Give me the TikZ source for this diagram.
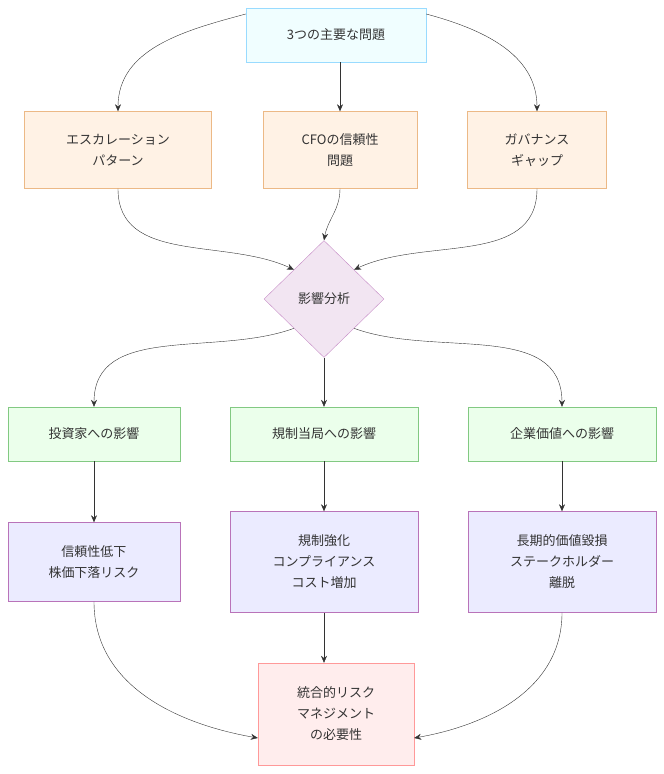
\documentclass[tikz,border=0pt]{standalone}
\usepackage{fontspec}
\newfontfamily\jp{Noto Sans CJK JP}
\usetikzlibrary{arrows.meta,shapes.geometric}
\definecolor{lineC}{HTML}{333333}
\tikzset{
  box/.style={draw, thin, align=center, font=\jp\fontsize{13}{21}\selectfont, text=lineC, inner sep=0pt},
  topbox/.style={box, fill=blue!8!cyan!6, draw=blue!35!cyan!40},
  issue/.style={box, fill=orange!10, draw=orange!45!brown!55},
  judge/.style={draw=violet!45, fill=violet!10, diamond, aspect=1, minimum width=120pt, minimum height=117pt, inner sep=0pt, font=\jp\fontsize{13}{21}\selectfont, text=lineC},
  impact/.style={box, fill=green!8, draw=green!40!gray!70},
  effect/.style={box, fill=blue!8, draw=violet!55},
  goal/.style={box, fill=red!7, draw=red!40},
  link/.style={-{Stealth[length=7pt,width=6pt]}, lineC, thin}
}
\begin{document}
\begin{tikzpicture}[x=1pt,y=-1pt]
\useasboundingbox (0,0) rectangle (664,774);
% top
\node[topbox, minimum width=180pt, minimum height=54pt] (top) at (336,35) {3つの主要な問題};
% issues
\node[issue, minimum width=187pt, minimum height=77pt] (esc) at (118,150) {エスカレーション\\パターン};
\node[issue, minimum width=154pt, minimum height=77pt] (cfo) at (340,150) {CFOの信頼性\\問題};
\node[issue, minimum width=139pt, minimum height=77pt] (gov) at (537,150) {ガバナンス\\ギャップ};
% analysis
\node[judge] (ana) at (324,299) {影響分析};
% impacts
\node[impact, minimum width=172pt, minimum height=54pt] (inv) at (94,434) {投資家への影響};
\node[impact, minimum width=188pt, minimum height=54pt] (reg) at (324,434) {規制当局への影響};
\node[impact, minimum width=188pt, minimum height=54pt] (ent) at (562,434) {企業価値への影響};
% effects
\node[effect, minimum width=172pt, minimum height=79pt] (trust) at (94,562) {信頼性低下\\株価下落リスク};
\node[effect, minimum width=188pt, minimum height=101pt] (comp) at (324,562) {規制強化\\コンプライアンス\\コスト増加};
\node[effect, minimum width=188pt, minimum height=101pt] (loss) at (562,562) {長期的価値毀損\\ステークホルダー\\離脱};
% goal
\node[goal, minimum width=156pt, minimum height=102pt] (risk) at (336,714) {統合的リスク\\マネジメント\\の必要性};
%
\draw[link] ([yshift=21]top.west) to[out=195,in=90] (esc.north);
\draw[link] ([xshift=4]top.south) to (cfo.north);
\draw[link] ([yshift=21]top.east) to[out=-15,in=90] (gov.north);
%
\draw[link] (esc.south) to[out=-90,in=155] (ana.north west);
\draw[link] (cfo.south) to[out=-90,in=80] (ana.north);
\draw[link] (gov.south) to[out=-90,in=25] (ana.north east);
%
\draw[link] (ana.south west) to[out=200,in=90] (inv.north);
\draw[link] (ana.south) to (reg.north);
\draw[link] (ana.south east) to[out=-20,in=90] (ent.north);
%
\draw[link] (inv) to (trust);
\draw[link] (reg) to (comp);
\draw[link] (ent) to (loss);
%
\draw[link] (trust.south) to[out=-90,in=170] ([yshift=-24]risk.west);
\draw[link] (comp.south) to (comp.south|-risk.north);
\draw[link] (loss.south) to[out=-90,in=10] ([yshift=-24]risk.east);
\end{tikzpicture}
\end{document}
